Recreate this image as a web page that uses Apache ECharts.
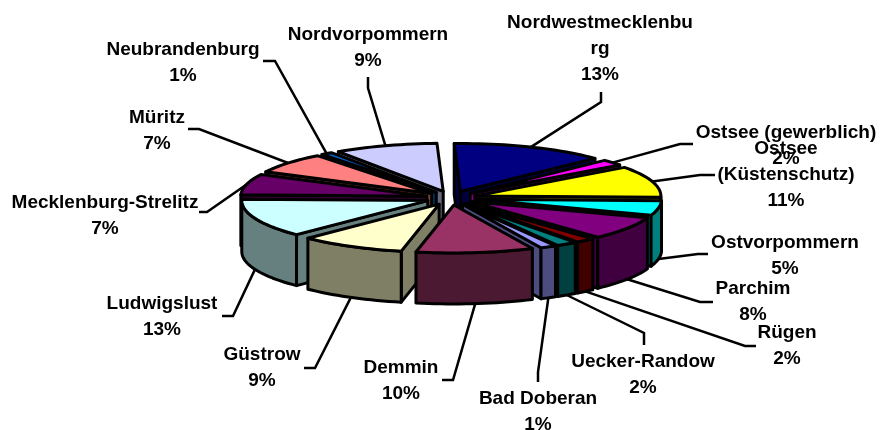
<!DOCTYPE html>
<html>
<head>
<meta charset="utf-8">
<style>
    html, body { margin: 0; padding: 0; background: #fff; }
    #chartMain { width: 882px; height: 430px; }
</style>
<script src="https://cdn.jsdelivr.net/npm/echarts@6/dist/echarts.min.js"></script>
</head>
<body>
<div id="chartMain"></div>
<script>
const categories = ['Bad Doberan', 'Demmin', 'Güstrow', 'Ludwigslust', 'Mecklenburg-Strelitz', 'Müritz', 'Neubrandenburg',
    'Nordvorpommern', 'Nordwestmecklenburg', 'Ostsee (gewerblich)', 'Ostsee (Küstenschutz)', 'Ostvorpommern', 'Parchim', 'Rügen', 'Uecker-Randow'];
// the labels show them rounded
const percents = [1.4, 10.2, 9.2, 13, 7, 7, 1, 9, 13.4, 2, 10.6, 4.9, 7.8, 1.7, 1.8];
const colors = ['#9999ff', '#993366', '#ffffcc', '#ccffff', '#660066', '#ff8080', '#0066cc',
    '#ccccff', '#000080', '#ff00ff', '#ffff00', '#00ffff', '#800080', '#800000', '#008080'];
// wrapped the way the reference wraps them
const labelLines = ['Bad Doberan', 'Demmin', 'Güstrow', 'Ludwigslust', 'Mecklenburg-Strelitz', 'Müritz', 'Neubrandenburg',
    'Nordvorpommern', 'Nordwestmecklenbu\nrg', 'Ostsee (gewerblich)', 'Ostsee\n(Küstenschutz)', 'Ostvorpommern', 'Parchim', 'Rügen', 'Uecker-Randow'];
// label centre
const labelPos = [[538, 412], [401, 381], [262, 368], [162, 317], [105, 216], [157, 131], [183, 63],
    [368, 48], [600, 49], [786, 146], [786, 175], [785, 256], [753, 302], [787, 346], [643, 375]];
// leader line bends after the rim
const leaderBends = [
    [[538, 372], [538, 382]], [[453, 380], [442, 380]], [[315, 368], [304, 368]], [[233, 316], [222, 316]],
    [[207, 212], [199, 212]], [[199, 129], [188, 129]], [[275, 61], [263, 61]], [[368, 88], [368, 77]],
    [[601, 102], [601, 92]], [[680, 144], [693, 144]], [[700, 175], [715, 175]], [[698, 254], [708, 254]],
    [[700, 302], [713, 302]], [[745, 346], [756, 346]], [[644, 333], [644, 345]]
];

const startAngle = 150;
const cx = 451, cy = 198, rx = 186, ry = 48, depth = 51, explodeX = 25, explodeY = 7;

const slices = [];
let cum = startAngle;
percents.forEach((p, i) => {
    const a = cum, b = cum + p * 3.6;
    slices.push({ index: i, a: a, b: b, mid: (a + b) / 2 });
    cum = b;
});

function rad(d) { return d * Math.PI / 180; }
function apex(s) {
    return [cx + explodeX * Math.sin(rad(s.mid)), cy - explodeY * Math.cos(rad(s.mid))];
}
function rim(s, angle) {
    const o = apex(s);
    return [o[0] + rx * Math.sin(rad(angle)), o[1] - ry * Math.cos(rad(angle))];
}
function arc(s, from, to) {
    const pts = [];
    const n = Math.max(2, Math.ceil((to - from) / 2));
    for (let k = 0; k <= n; k++) {
        pts.push(rim(s, from + (to - from) * k / n));
    }
    return pts;
}
function down(pts) {
    return pts.map(p => [p[0], p[1] + depth]);
}
function halfColor(hex) {
    const n = parseInt(hex.slice(1), 16);
    const r = (n >> 16) >> 1, g = ((n >> 8) & 255) >> 1, b = (n & 255) >> 1;
    return 'rgb(' + r + ',' + g + ',' + b + ')';
}
function poly(points, fill) {
    return {
        type: 'polygon',
        shape: { points: points },
        style: { fill: fill, stroke: '#000', lineWidth: 3, lineJoin: 'round' }
    };
}

// back slices first so the front ones cover them
const paintOrder = slices.slice().sort((p, q) => Math.cos(rad(q.mid)) - Math.cos(rad(p.mid)));

function renderSlice(params, api) {
    const s = slices[api.value(0)];
    const top = colors[s.index], side = halfColor(top);
    const o = apex(s), children = [];
    if (Math.sin(rad(s.a)) < 0) {
        const p = rim(s, s.a);
        children.push(poly([o, p, [p[0], p[1] + depth], [o[0], o[1] + depth]], side));
    }
    if (Math.sin(rad(s.b)) > 0) {
        const p = rim(s, s.b);
        children.push(poly([o, p, [p[0], p[1] + depth], [o[0], o[1] + depth]], side));
    }
    // outer wall only where it faces the viewer
    for (let shift = -360; shift <= 360; shift += 360) {
        const from = Math.max(s.a, 90 + shift), to = Math.min(s.b, 270 + shift);
        if (to > from) {
            const wall = arc(s, from, to);
            children.push(poly(wall.concat(down(wall).reverse()), side));
        }
    }
    children.push(poly([o].concat(arc(s, s.a, s.b)), top));
    return { type: 'group', children: children };
}

function renderLabel(params, api) {
    const i = api.value(0);
    const s = slices[i];
    const start = rim(s, s.mid);
    const m = ((s.mid % 360) + 360) % 360;
    if (m > 90 && m < 270) {
        start[1] += depth;
    }
    return {
        type: 'group',
        children: [{
            type: 'polyline',
            shape: { points: [start].concat(leaderBends[i]) },
            style: { fill: null, stroke: '#000', lineWidth: 2.5 }
        }, {
            type: 'text',
            z2: 10,
            style: {
                x: labelPos[i][0],
                y: labelPos[i][1],
                text: labelLines[i] + '\n' + Math.round(percents[i]) + '%',
                align: 'center',
                verticalAlign: 'middle',
                font: 'bold 19px "Liberation Sans", Arial, sans-serif',
                lineHeight: 26,
                fill: '#000'
            }
        }]
    };
}

const myChart = echarts.init(document.getElementById('chartMain'), null, { renderer: 'canvas' });
myChart.setOption({
    animation: false,
    backgroundColor: '#fff',
    series: [{
        type: 'custom',
        coordinateSystem: 'none',
        z: 1,
        renderItem: renderLabel,
        data: categories.map((name, i) => ({ name: name, value: [i, percents[i]] }))
    }, {
        type: 'custom',
        coordinateSystem: 'none',
        z: 2,
        renderItem: renderSlice,
        data: paintOrder.map(s => ({ name: categories[s.index], value: [s.index, percents[s.index]] }))
    }]
});
</script>
</body>
</html>
